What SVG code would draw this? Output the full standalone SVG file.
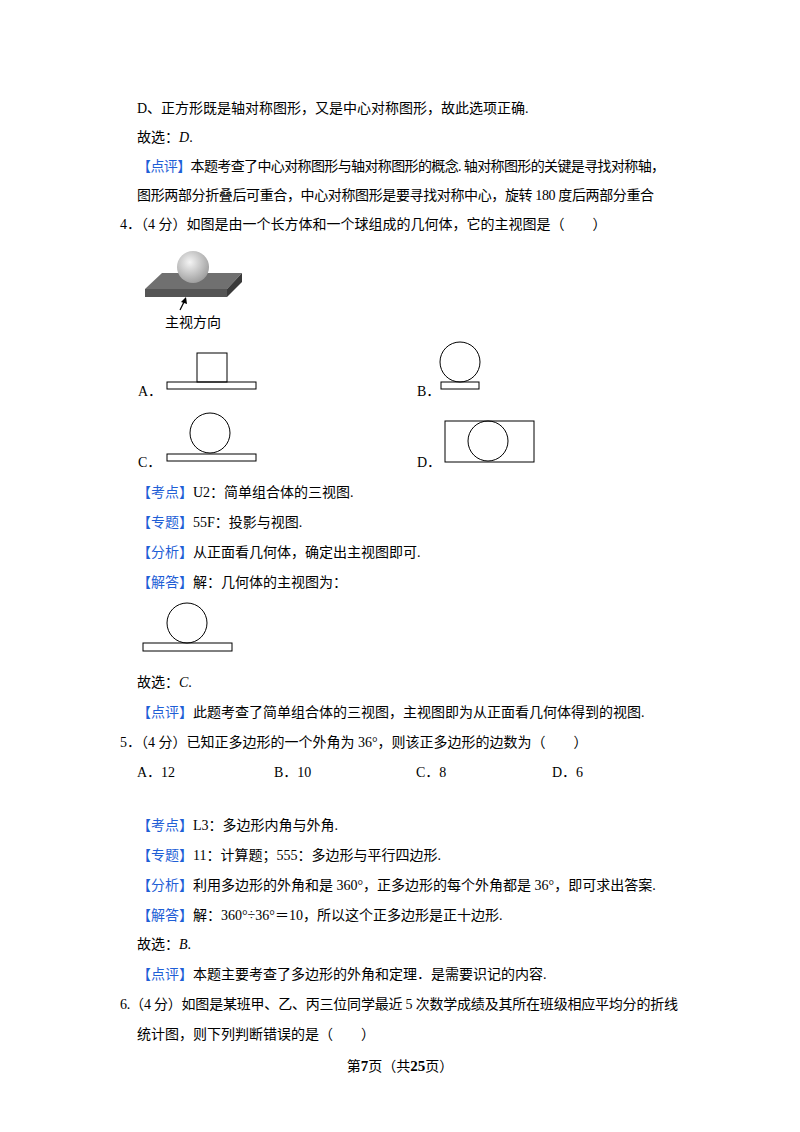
<svg xmlns="http://www.w3.org/2000/svg" width="800" height="1132" viewBox="0 0 800 1132">
<style>
text{font-family:"Liberation Serif","Noto Sans CJK SC",serif;font-size:14px;fill:#000}
.b{fill:#1f5fd6}
.s{fill:none;stroke:#000;stroke-width:1}
</style>
<defs><radialGradient id="g" cx="0.4" cy="0.35" r="0.7"><stop offset="0" stop-color="#f4f4f4"/><stop offset="1" stop-color="#9a9a9a"/></radialGradient></defs>
<rect width="800" height="1132" fill="#fff"/>
<text x="137" y="113">D、正方形既是轴对称图形，又是中心对称图形，故此选项正确.</text>
<text x="137" y="142">故选：<tspan font-style="italic">D</tspan>.</text>
<text x="137" y="171" textLength="528"><tspan class="b">【点评】</tspan>本题考查了中心对称图形与轴对称图形的概念. 轴对称图形的关键是寻找对称轴，</text>
<text x="137" y="200" textLength="517">图形两部分折叠后可重合，中心对称图形是要寻找对称中心，旋转 180 度后两部分重合</text>
<text x="120" y="229">4．（4 分）如图是由一个长方体和一个球组成的几何体，它的主视图是（　　）</text>
<g id="solid">
<polygon points="145,289 162,273 242,273 227,289" fill="#707070"/>
<polygon points="227,289 242,273 242,282 227,297" fill="#3a3a3a"/>
<rect x="145" y="289" width="82" height="8" fill="#555"/>
<circle cx="193" cy="267" r="16" fill="url(#g)"/>
<path d="M180,310 L185,300" stroke="#000" stroke-width="1.3"/>
<polygon points="186,297 187,304 181,302" fill="#000"/>
<text x="165" y="327" font-size="12">主视方向</text>
</g>
<g id="optA"><text x="138" y="396">A．</text><rect class="s" x="167" y="382" width="89" height="7"/><rect class="s" x="197" y="353" width="30" height="29"/></g>
<g id="optB"><text x="417" y="396">B．</text><rect class="s" x="441" y="382" width="38" height="7"/><circle class="s" cx="460" cy="362" r="20"/></g>
<g id="optC"><text x="138" y="467">C．</text><rect class="s" x="167" y="454" width="89" height="7"/><circle class="s" cx="210" cy="433" r="20"/></g>
<g id="optD"><text x="417" y="467">D．</text><rect class="s" x="445" y="421" width="89" height="41"/><circle class="s" cx="488" cy="441" r="20"/></g>
<text x="137" y="497"><tspan class="b">【考点】</tspan>U2：简单组合体的三视图.</text>
<text x="137" y="527"><tspan class="b">【专题】</tspan>55F：投影与视图.</text>
<text x="137" y="557"><tspan class="b">【分析】</tspan>从正面看几何体，确定出主视图即可.</text>
<text x="137" y="587"><tspan class="b">【解答】</tspan>解：几何体的主视图为：</text>
<g id="answer"><rect class="s" x="143" y="643" width="89" height="8"/><circle class="s" cx="187" cy="623" r="20"/></g>
<text x="137" y="687">故选：<tspan font-style="italic">C</tspan>.</text>
<text x="137" y="717"><tspan class="b">【点评】</tspan>此题考查了简单组合体的三视图，主视图即为从正面看几何体得到的视图.</text>
<text x="120" y="747">5．（4 分）已知正多边形的一个外角为 36°，则该正多边形的边数为（　　）</text>
<text x="137" y="777">A．12</text><text x="274" y="777">B．10</text><text x="416" y="777">C．8</text><text x="552" y="777">D．6</text>
<text x="137" y="830"><tspan class="b">【考点】</tspan>L3：多边形内角与外角.</text>
<text x="137" y="860"><tspan class="b">【专题】</tspan>11：计算题；555：多边形与平行四边形.</text>
<text x="137" y="890"><tspan class="b">【分析】</tspan>利用多边形的外角和是 360°，正多边形的每个外角都是 36°，即可求出答案.</text>
<text x="137" y="920"><tspan class="b">【解答】</tspan>解：360°÷36°＝10，所以这个正多边形是正十边形.</text>
<text x="137" y="949">故选：<tspan font-style="italic">B</tspan>.</text>
<text x="137" y="979"><tspan class="b">【点评】</tspan>本题主要考查了多边形的外角和定理．是需要识记的内容.</text>
<text x="120" y="1009" textLength="558">6.（4 分）如图是某班甲、乙、丙三位同学最近 5 次数学成绩及其所在班级相应平均分的折线</text>
<text x="137" y="1039">统计图，则下列判断错误的是（　　）</text>
<text x="400" y="1071" text-anchor="middle" font-size="13">第<tspan font-weight="bold" font-size="15">7</tspan>页（共<tspan font-weight="bold" font-size="15">25</tspan>页）</text>
</svg>
